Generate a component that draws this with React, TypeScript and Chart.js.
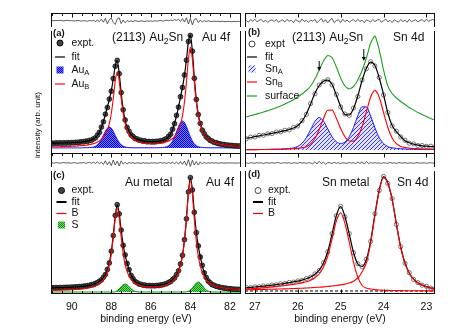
import React, { useEffect, useRef } from "react";
import { Chart, registerables } from "chart.js";

Chart.register(...registerables);

const FONT = '"Liberation Sans", Arial, Helvetica, sans-serif';
const PAD = 6;
const RED = "#ff0000";
const BLUE = "#1a1aff";
const GREEN = "#1f9f1f";

// ---------- axes ----------
const auRange = [81.44, 91.05];
const snRange = [22.8, 27.23];
const auMajorTicks = [90, 88, 86, 84, 82];
const snMajorTicks = [27, 26, 25, 24, 23];

// ---------- Au 4f energies (eV) ----------
const auEnergy = [
  91.0, 90.9, 90.8, 90.7, 90.6, 90.5, 90.4, 90.3, 90.2, 90.1,
  90.0, 89.9, 89.8, 89.7, 89.6, 89.5, 89.4, 89.3, 89.2, 89.1,
  89.0, 88.9, 88.8, 88.7, 88.6, 88.5, 88.4, 88.3, 88.2, 88.1,
  88.0, 87.9, 87.8, 87.7, 87.6, 87.5, 87.4, 87.3, 87.2, 87.1,
  87.0, 86.9, 86.8, 86.7, 86.6, 86.5, 86.4, 86.3, 86.2, 86.1,
  86.0, 85.9, 85.8, 85.7, 85.6, 85.5, 85.4, 85.3, 85.2, 85.1,
  85.0, 84.9, 84.8, 84.7, 84.6, 84.5, 84.4, 84.3, 84.2, 84.1,
  84.0, 83.9, 83.8, 83.7, 83.6, 83.5, 83.4, 83.3, 83.2, 83.1,
  83.0, 82.9, 82.8, 82.7, 82.6, 82.5, 82.4, 82.3, 82.2, 82.1,
  82.0, 81.9, 81.8, 81.7, 81.6, 81.5,
];

// panel (a) (2113) Au2Sn, Au 4f
const aExpt = [
  9.9, 9.6, 10.0, 9.8, 10.1, 9.8, 10.2, 9.9, 10.3, 10.0,
  10.4, 10.2, 10.7, 10.5, 10.9, 11.2, 11.2, 11.8, 11.7, 12.6,
  12.8, 14.1, 15.2, 17.9, 20.7, 25.9, 31.2, 38.8, 45.5, 53.9,
  61.8, 74.5, 86.8, 92.6, 79.3, 60.4, 43.2, 33.0, 25.5, 21.6,
  18.1, 16.5, 14.6, 14.0, 12.9, 12.7, 11.9, 12.0, 11.3, 11.6,
  11.2, 11.5, 11.2, 11.7, 11.6, 12.3, 12.4, 13.6, 14.3, 16.6,
  18.8, 23.8, 29.3, 37.6, 45.9, 56.3, 65.5, 78.0, 92.8, 111.5,
  117.5, 101.8, 74.7, 53.5, 38.4, 29.6, 22.8, 19.3, 16.1, 14.5,
  12.6, 11.9, 10.6, 10.3, 9.4, 9.2, 8.5, 8.5, 7.8, 7.9,
  7.5, 7.6, 7.1, 7.2, 6.9, 7.0,
];
const aFit = [
  9.8, 9.8, 9.8, 9.9, 9.9, 10.0, 10.0, 10.1, 10.1, 10.2,
  10.3, 10.4, 10.5, 10.7, 10.8, 11.0, 11.4, 11.6, 11.9, 12.4,
  13.0, 13.9, 15.4, 17.6, 21.0, 25.6, 31.5, 38.4, 45.9, 53.5,
  62.3, 74.0, 87.2, 92.2, 79.8, 60.0, 43.6, 32.7, 25.8, 21.3,
  18.3, 16.3, 14.8, 13.8, 13.1, 12.5, 12.1, 11.8, 11.5, 11.4,
  11.4, 11.3, 11.4, 11.5, 11.8, 12.1, 12.6, 13.4, 14.5, 16.3,
  19.1, 23.5, 29.6, 37.3, 46.2, 55.9, 65.9, 77.6, 93.2, 111.1,
  117.9, 101.4, 75.1, 53.2, 38.7, 29.3, 23.1, 19.1, 16.3, 14.3,
  12.8, 11.7, 10.8, 10.1, 9.6, 9.0, 8.7, 8.3, 8.0, 7.8,
  7.6, 7.4, 7.3, 7.1, 7.0, 6.9,
];
const aAuA = [
  5.1, 5.1, 5.1, 5.1, 5.1, 5.1, 5.1, 5.1, 5.1, 5.1,
  5.1, 5.1, 5.1, 5.1, 5.1, 5.1, 5.3, 5.3, 5.3, 5.4,
  5.6, 6.0, 6.8, 8.2, 10.5, 13.7, 17.6, 21.7, 24.8, 26.0,
  24.8, 21.7, 17.6, 13.7, 10.5, 8.2, 6.8, 6.0, 5.6, 5.4,
  5.3, 5.2, 5.2, 5.2, 5.2, 5.2, 5.2, 5.2, 5.2, 5.2,
  5.2, 5.2, 5.2, 5.2, 5.3, 5.4, 5.5, 5.8, 6.3, 7.3,
  9.1, 12.0, 16.2, 21.3, 26.4, 30.5, 32.0, 30.5, 26.4, 21.3,
  16.2, 12.0, 9.1, 7.3, 6.3, 5.8, 5.5, 5.4, 5.3, 5.2,
  5.2, 5.2, 5.2, 5.2, 5.2, 5.2, 5.1, 5.1, 5.1, 5.1,
  5.1, 5.1, 5.1, 5.1, 5.1, 5.1,
];
const aAuB = [
  6.2, 6.2, 6.2, 6.3, 6.3, 6.4, 6.4, 6.5, 6.5, 6.6,
  6.7, 6.8, 6.9, 7.1, 7.2, 7.4, 7.6, 7.8, 8.1, 8.5,
  8.9, 9.4, 10.1, 10.9, 12.0, 13.5, 15.5, 18.4, 22.9, 29.4,
  39.5, 54.5, 71.9, 81.0, 71.9, 54.5, 39.6, 29.6, 23.2, 18.9,
  16.0, 14.1, 12.6, 11.6, 10.9, 10.3, 9.9, 9.6, 9.3, 9.2,
  9.2, 9.1, 9.2, 9.3, 9.5, 9.7, 10.1, 10.6, 11.2, 12.0,
  13.0, 14.5, 16.4, 19.0, 22.9, 28.6, 37.3, 50.7, 70.6, 93.8,
  105.9, 93.8, 70.5, 50.6, 37.2, 28.4, 22.6, 18.7, 16.0, 14.1,
  12.6, 11.5, 10.6, 9.9, 9.4, 8.9, 8.6, 8.2, 7.9, 7.7,
  7.5, 7.3, 7.2, 7.0, 6.9, 6.8,
];
const aRes = [
  0.5, 0.2, 0.6, 0.3, 0.8, 0.4, 0.1, 0.5, 0.7, 0.2,
  0.4, 0.0, 0.3, 0.6, 0.2, -0.2, 0.4, 0.1, -0.3, 0.5,
  0.0, 0.7, -0.4, 0.9, -0.6, 1.8, -1.2, 2.5, -2.8, 1.5,
  3.0, -1.5, -3.5, 2.0, 3.2, -2.6, 1.0, -1.8, 0.5, -0.5,
  0.3, -0.7, 0.4, 0.0, -0.6, 0.3, -0.2, -0.5, 0.2, -0.3,
  0.1, -0.4, 0.3, -0.2, 0.2, 0.5, -0.1, 0.4, 0.8, 0.2,
  1.0, 0.4, 1.3, 0.6, 1.8, -0.5, 2.4, -1.0, 3.2, -3.0,
  2.5, -3.8, 1.6, 2.4, -1.5, 0.8, -0.9, 0.4, -0.6, 0.2,
  -0.3, -0.6, -0.1, -0.5, -0.2, -0.7, -0.3, -0.4, -0.8, -0.3,
  -0.5, -0.7, -0.4, -0.6, -0.3, -0.5,
];

// panel (c) Au metal, Au 4f
const cExpt = [
  6.3, 6.0, 6.4, 6.2, 6.5, 6.3, 6.6, 6.5, 6.7, 6.6,
  6.9, 6.8, 7.2, 7.1, 7.4, 7.4, 7.8, 7.9, 8.4, 8.6,
  9.3, 9.6, 10.6, 11.3, 12.8, 14.1, 16.7, 19.4, 24.5, 31.1,
  42.8, 58.4, 78.6, 89.3, 80.1, 63.9, 48.7, 39.1, 30.5, 24.4,
  18.7, 15.4, 12.5, 11.4, 10.0, 9.7, 8.9, 8.9, 8.3, 8.5,
  8.2, 8.4, 8.2, 8.6, 8.5, 9.0, 9.2, 9.9, 10.4, 11.6,
  12.4, 14.4, 16.0, 19.4, 23.2, 30.0, 38.7, 54.3, 75.2, 102.1,
  116.4, 104.0, 81.7, 61.3, 48.1, 37.0, 28.7, 21.2, 16.6, 13.0,
  11.2, 9.3, 8.7, 7.7, 7.3, 6.6, 6.4, 5.9, 5.8, 5.3,
  5.3, 4.9, 4.9, 4.6, 4.7, 4.5,
];
const cFit = [
  6.2, 6.2, 6.3, 6.3, 6.4, 6.4, 6.5, 6.6, 6.6, 6.7,
  6.8, 6.9, 7.1, 7.2, 7.3, 7.5, 7.7, 8.0, 8.3, 8.7,
  9.2, 9.7, 10.5, 11.4, 12.7, 14.3, 16.5, 19.6, 24.2, 31.4,
  42.4, 58.8, 78.2, 88.8, 80.5, 63.6, 49.1, 38.8, 30.8, 24.2,
  18.9, 15.2, 12.7, 11.2, 10.2, 9.5, 9.1, 8.7, 8.4, 8.4,
  8.3, 8.3, 8.3, 8.5, 8.6, 8.9, 9.3, 9.8, 10.5, 11.4,
  12.6, 14.2, 16.2, 19.2, 23.4, 29.7, 39.0, 53.9, 75.6, 101.7,
  115.8, 104.4, 81.3, 61.7, 47.8, 37.3, 28.4, 21.4, 16.4, 13.2,
  11.0, 9.5, 8.6, 7.8, 7.2, 6.7, 6.3, 6.0, 5.7, 5.4,
  5.2, 5.0, 4.8, 4.7, 4.6, 4.5,
];
const cB = [
  3.7, 3.7, 3.8, 3.8, 3.9, 3.9, 4.0, 4.1, 4.1, 4.2,
  4.3, 4.4, 4.6, 4.7, 4.8, 5.0, 5.2, 5.5, 5.8, 6.2,
  6.7, 7.2, 8.0, 8.9, 10.2, 11.8, 14.0, 17.2, 21.9, 29.1,
  40.2, 56.5, 75.6, 85.5, 75.7, 56.7, 40.4, 29.4, 22.3, 17.6,
  14.5, 12.35, 10.8, 9.7, 8.9, 8.2, 7.8, 7.4, 7.1, 7.1,
  7.0, 7.0, 7.0, 7.2, 7.3, 7.6, 8.0, 8.5, 9.2, 10.1,
  11.3, 12.9, 14.9, 17.9, 22.1, 28.5, 37.9, 52.7, 74.6, 100.2,
  113.4, 100.1, 74.5, 52.6, 37.8, 28.3, 21.8, 17.5, 14.5, 12.4,
  10.8, 9.5, 8.6, 7.8, 7.2, 6.7, 6.3, 6.0, 5.7, 5.4,
  5.2, 5.0, 4.8, 4.7, 4.6, 4.5,
];
const cS = [
  2.0, 2.0, 2.0, 2.0, 2.0, 2.0, 2.0, 2.0, 2.0, 2.0,
  2.0, 2.0, 2.0, 2.0, 2.0, 2.0, 2.0, 2.0, 2.0, 2.0,
  2.0, 2.0, 2.0, 2.0, 2.0, 2.0, 2.0, 2.0, 2.0, 2.0,
  2.0, 2.0, 2.2, 3.5, 5.1, 7.3, 9.2, 10.0, 9.2, 7.3,
  5.1, 3.5, 2.6, 2.2, 2.0, 2.0, 2.0, 2.0, 2.0, 2.0,
  2.0, 2.0, 2.0, 2.0, 2.0, 2.0, 2.0, 2.0, 2.0, 2.0,
  2.0, 2.0, 2.0, 2.0, 2.0, 2.0, 2.0, 2.0, 2.2, 2.8,
  3.9, 5.9, 8.6, 11.0, 12.0, 11.0, 8.6, 5.9, 3.9, 2.8,
  2.2, 2.0, 2.0, 2.0, 2.0, 2.0, 2.0, 2.0, 2.0, 2.0,
  2.0, 2.0, 2.0, 2.0, 2.0, 2.0,
];
const cRes = [
  0.3, -0.2, 0.4, 0.1, -0.3, 0.2, 0.5, -0.1, 0.3, 0.0,
  -0.2, 0.4, 0.1, -0.4, 0.3, 0.0, 0.5, -0.3, 0.2, 0.6,
  -0.2, 0.8, -0.5, 1.2, -0.8, 0.9, -1.5, 2.2, -1.8, 1.4,
  -2.6, 3.0, -2.0, 1.8, -3.0, 2.2, -1.2, 0.8, -0.9, 0.5,
  -0.3, 0.4, -0.5, 0.2, 0.0, -0.4, 0.3, -0.2, 0.1, -0.3,
  0.2, -0.1, 0.3, -0.3, 0.1, 0.4, -0.2, 0.3, -0.4, 0.5,
  -0.3, 0.7, -0.6, 1.0, -1.2, 1.6, -1.4, 2.0, -2.4, 3.2,
  -3.5, 2.8, -2.0, 1.5, -2.2, 1.2, -0.8, 0.6, -0.4, 0.3,
  -0.2, 0.3, -0.1, 0.2, -0.3, 0.1, 0.2, -0.2, 0.1, 0.0,
  0.2, -0.1, 0.1, -0.2, 0.1, 0.0,
];

// ---------- Sn 4d energies (eV) ----------
const snEnergy = [
  27.2, 27.1, 27.0, 26.9, 26.8, 26.7, 26.6, 26.5, 26.4, 26.3,
  26.2, 26.1, 26.0, 25.9, 25.8, 25.7, 25.6, 25.5, 25.4, 25.3,
  25.2, 25.1, 25.0, 24.9, 24.8, 24.7, 24.6, 24.5, 24.4, 24.3,
  24.2, 24.1, 24.0, 23.9, 23.8, 23.7, 23.6, 23.5, 23.4, 23.3,
  23.2, 23.1, 23.0, 22.9, 22.8,
];
const snResEnergy = [
  27.2, 27.15, 27.1, 27.05, 27.0, 26.95, 26.9, 26.85, 26.8, 26.75,
  26.7, 26.65, 26.6, 26.55, 26.5, 26.45, 26.4, 26.35, 26.3, 26.25,
  26.2, 26.15, 26.1, 26.05, 26.0, 25.95, 25.9, 25.85, 25.8, 25.75,
  25.7, 25.65, 25.6, 25.55, 25.5, 25.45, 25.4, 25.35, 25.3, 25.25,
  25.2, 25.15, 25.1, 25.05, 25.0, 24.95, 24.9, 24.85, 24.8, 24.75,
  24.7, 24.65, 24.6, 24.55, 24.5, 24.45, 24.4, 24.35, 24.3, 24.25,
  24.2, 24.15, 24.1, 24.05, 24.0, 23.95, 23.9, 23.85, 23.8, 23.75,
  23.7, 23.65, 23.6, 23.55, 23.5, 23.45, 23.4, 23.35, 23.3, 23.25,
  23.2, 23.15, 23.1, 23.05, 23.0, 22.95, 22.9, 22.85, 22.8,
];

// panel (b) (2113) Au2Sn, Sn 4d
const bExpt = [
  14.2, 15.9, 16.0, 17.6, 17.7, 19.2, 19.4, 21.0, 21.1, 22.7,
  23.1, 25.5, 27.0, 32.3, 38.6, 49.5, 59.2, 68.0, 71.3, 73.3,
  68.0, 58.6, 46.0, 39.0, 37.6, 45.0, 56.5, 73.0, 84.2, 91.3,
  87.0, 75.5, 58.0, 40.5, 27.0, 21.8, 16.1, 12.7, 9.8, 9.1,
  7.5, 7.5, 6.6, 6.8, 6.1,
];
const bFit = [
  14.7, 15.5, 16.3, 17.2, 18.0, 18.8, 19.7, 20.6, 21.4, 22.3,
  23.5, 25.0, 27.3, 31.8, 39.0, 49.0, 59.7, 67.5, 71.8, 72.8,
  68.5, 58.0, 46.5, 38.5, 38.0, 44.5, 57.0, 72.5, 84.7, 90.8,
  87.5, 75.0, 58.5, 40.0, 27.5, 21.3, 16.5, 12.3, 10.2, 8.8,
  7.8, 7.2, 6.8, 6.5, 6.3,
];
const bSnA = [
  3.3, 3.3, 3.4, 3.4, 3.5, 3.6, 3.7, 3.8, 3.9, 4.1,
  4.5, 5.1, 6.6, 9.7, 15.3, 23.4, 31.6, 35.4, 31.9, 24.0,
  16.3, 11.3, 9.4, 11.0, 16.3, 25.6, 37.3, 46.2, 46.1, 37.0,
  25.1, 15.4, 9.5, 6.4, 5.2, 4.6, 4.2, 4.0, 3.8, 3.7,
  3.6, 3.55, 3.5, 3.45, 3.4,
];
const bSnB = [
  3.3, 3.35, 3.4, 3.45, 3.5, 3.5, 3.6, 3.7, 3.8, 3.9,
  4.1, 4.3, 4.6, 5.2, 6.3, 9.2, 14.5, 23.5, 34.3, 42.7,
  42.9, 34.8, 24.4, 16.2, 12.0, 11.9, 16.5, 26.3, 41.1, 56.0,
  62.6, 55.7, 40.5, 25.5, 15.1, 9.3, 6.6, 5.5, 4.9, 4.5,
  4.3, 4.1, 3.9, 3.8, 3.7,
];
const bSurface = [
  36.0, 37.3, 38.5, 39.7, 41.0, 42.3, 43.7, 45.2, 47.0, 49.0,
  51.0, 53.3, 56.0, 59.0, 62.5, 67.0, 74.0, 83.0, 92.0, 97.5,
  95.5, 86.0, 75.0, 67.0, 64.0, 66.5, 73.0, 82.5, 95.0, 110.0,
  117.0, 103.0, 83.0, 67.0, 59.5, 55.0, 51.5, 48.5, 45.5, 43.0,
  40.5, 38.5, 36.5, 34.5, 32.8,
];
const bRes = [
  0.5, -1.2, 1.4, -0.3, 1.8, -0.8, 0.6, 1.5, -1.0, 0.9,
  -1.5, 0.4, 1.2, -0.6, 1.7, -1.3, 0.2, 1.1, -0.9, 1.6,
  -0.4, 0.8, -1.6, 1.3, 0.1, -1.1, 1.9, -0.5, 0.7, -1.4,
  1.0, -0.2, 1.5, -1.8, 0.6, 2.4, -1.2, 1.3, -2.0, 0.9,
  2.6, -1.7, 0.4, 1.2, -1.5, 1.8, -0.7, 1.0, -1.3, 0.5,
  1.4, -0.9, 1.7, -0.4, 0.8, -1.6, 1.1, 0.2, -1.0, 1.5,
  -0.6, 0.9, 1.6, -1.2, 0.3, 1.9, -0.8, 0.7, -1.5, 1.2,
  0.0, -1.1, 1.4, -0.5, 0.9, -1.3, 1.7, -0.7, 0.4, 1.3,
  -1.0, 0.6, 1.5, -0.8, 1.9, -0.4, 0.8, 1.6, -0.3,
];
const arrowEnergy = [25.5, 24.46];
const arrowTop = [92, 104];
const arrowTip = [82, 92];

// panel (d) Sn metal, Sn 4d
const dExpt = [
  6.5, 6.4, 7.2, 7.3, 8.0, 8.1, 9.0, 9.3, 10.2, 10.5,
  11.6, 11.9, 13.1, 13.7, 15.4, 16.8, 20.1, 23.5, 31.3, 42.2,
  60.4, 78.1, 87.7, 77.1, 60.4, 41.2, 30.3, 27.2, 34.8, 52.6,
  80.4, 103.6, 117.6, 110.6, 95.4, 69.6, 47.3, 30.7, 21.3, 14.6,
  11.4, 8.8, 7.6, 5.8, 5.4,
];
const dFit = [
  6.3, 6.6, 7.0, 7.4, 7.8, 8.3, 8.8, 9.4, 10.0, 10.7,
  11.4, 12.1, 12.9, 13.9, 15.2, 17.0, 19.8, 23.8, 31.0, 42.5,
  60.0, 78.5, 87.3, 77.5, 60.0, 41.5, 30.0, 27.5, 34.5, 53.0,
  80.0, 104.0, 117.3, 111.0, 95.0, 70.0, 47.0, 31.0, 21.0, 14.8,
  11.2, 9.0, 7.4, 6.0, 5.2,
];
const dB52 = [
  4.2, 4.3, 4.4, 4.5, 4.6, 4.7, 4.8, 4.9, 5.0, 5.15,
  5.3, 5.45, 5.6, 5.8, 6.0, 6.25, 6.5, 6.8, 7.1, 7.5,
  8.0, 8.5, 9.1, 9.9, 11.0, 12.8, 16.0, 22.0, 31.5, 51.0,
  78.6, 103.0, 116.5, 110.4, 94.5, 69.6, 46.65, 30.7, 20.75, 14.6,
  11.0, 8.85, 7.3, 5.9, 5.15,
];
const dB32 = [
  5.1, 5.3, 5.6, 5.9, 6.2, 6.6, 7.0, 7.5, 8.0, 8.55,
  9.1, 9.65, 10.3, 11.1, 12.2, 13.75, 16.3, 20.0, 26.9, 38.0,
  55.0, 73.0, 81.2, 70.6, 52.0, 31.7, 17.0, 8.5, 6.0, 5.0,
  4.4, 4.0, 3.8, 3.6, 3.5, 3.4, 3.35, 3.3, 3.25, 3.2,
  3.2, 3.15, 3.1, 3.1, 3.05,
];
const dBackgroundLevel = [3, 3];
const dBackgroundEnergy = [27.23, 22.8];
const dRes = [
  0.2, -0.4, 0.3, 0.0, -0.3, 0.4, -0.1, 0.2, -0.5, 0.3,
  0.1, -0.3, 0.4, -0.2, 0.2, 0.5, -0.4, 0.1, 0.3, -0.2,
  0.4, -0.5, 0.2, 0.0, -0.3, 0.6, -0.2, 0.3, -0.6, 0.4,
  0.1, -0.8, 1.2, -1.0, 1.8, -0.6, 0.9, -1.3, 0.5, 0.2,
  -0.5, 0.7, -0.3, 0.4, -0.7, 0.3, 0.0, -0.4, 0.6, -0.2,
  0.3, -0.5, 0.8, -0.4, 1.2, -1.1, 1.6, -0.7, 0.5, -0.3,
  0.4, -0.2, 0.1, -0.4, 0.3, 0.0, -0.3, 0.5, -0.2, 0.2,
  -0.4, 0.3, 0.1, -0.2, 0.4, -0.3, 0.0, 0.2, -0.3, 0.1,
  0.3, -0.2, 0.0, 0.2, -0.3, 0.1, 0.2, -0.1, 0.0,
];

// ---------- helpers ----------
const pts = (xs: number[], ys: number[]) => xs.map((x, i) => ({ x, y: ys[i] }));

function makePatterns(ctx: CanvasRenderingContext2D) {
  const tile = (w: number, h: number, draw: (c: CanvasRenderingContext2D) => void) => {
    const cv = document.createElement("canvas");
    cv.width = w;
    cv.height = h;
    const c = cv.getContext("2d")!;
    draw(c);
    return ctx.createPattern(cv, "repeat")!;
  };
  const blueCheck = tile(2, 2, (c) => {
    c.fillStyle = "#7a7aff";
    c.fillRect(0, 0, 2, 2);
    c.fillStyle = "#0000e8";
    c.fillRect(0, 0, 1, 1);
    c.fillRect(1, 1, 1, 1);
  });
  const greenCheck = tile(2, 2, (c) => {
    c.fillStyle = "#7fd07f";
    c.fillRect(0, 0, 2, 2);
    c.fillStyle = "#009a00";
    c.fillRect(0, 0, 1, 1);
    c.fillRect(1, 1, 1, 1);
  });
  const blueHatch = tile(4, 4, (c) => {
    c.fillStyle = "rgba(205,205,255,0.6)";
    c.fillRect(0, 0, 4, 4);
    c.fillStyle = "#3a3aff";
    c.fillRect(3, 0, 1, 1);
    c.fillRect(2, 1, 1, 1);
    c.fillRect(1, 2, 1, 1);
    c.fillRect(0, 3, 1, 1);
  });
  return { blueCheck, greenCheck, blueHatch } as Record<string, CanvasPattern>;
}

type TextItem = { t: string; x: number; y: number; size: number; bold?: boolean };
type LegendItem = { kind: "dotFilled" | "dotOpen" | "line" | "patch"; label: string; color?: string; pattern?: string; lw?: number };
type Deco = {
  frame: { top?: boolean; bottom?: boolean; left?: boolean; right?: boolean };
  ticks?: { side: "top" | "bottom"; major: number[]; minorStep?: number };
  tickLabels?: boolean;
  xTitle?: string;
  texts?: TextItem[];
  legend?: { markerX: number; labelX: number; rows: number[]; items: LegendItem[]; size: number };
  arrows?: boolean;
};

function drawRich(ctx: CanvasRenderingContext2D, s: string, x: number, y: number, size: number, bold?: boolean) {
  const w = bold ? "bold " : "";
  let cx = x;
  let i = 0;
  while (i < s.length) {
    if (s[i] === "_" && i + 1 < s.length) {
      ctx.font = `${w}${size * 0.72}px ${FONT}`;
      ctx.fillText(s[i + 1], cx, y + size * 0.3);
      cx += ctx.measureText(s[i + 1]).width;
      i += 2;
    } else {
      let j = i;
      while (j < s.length && s[j] !== "_") j++;
      const run = s.slice(i, j);
      ctx.font = `${w}${size}px ${FONT}`;
      ctx.fillText(run, cx, y);
      cx += ctx.measureText(run).width;
      i = j;
    }
  }
}

function drawDeco(chart: any, d: Deco, ox: number, oy: number, pats: Record<string, CanvasPattern>) {
  const ctx: CanvasRenderingContext2D = chart.ctx;
  const a = chart.chartArea;
  const xs = chart.scales.x;
  const ys = chart.scales.y;
  const L = Math.round(a.left) + 0.5;
  const R = Math.round(a.right) - 0.5;
  const T = Math.round(a.top) + 0.5;
  const B = Math.round(a.bottom) - 0.5;
  ctx.save();
  ctx.strokeStyle = "#111";
  ctx.lineWidth = 1;
  ctx.beginPath();
  if (d.frame.left) { ctx.moveTo(L, T - 0.5); ctx.lineTo(L, B + 0.5); }
  if (d.frame.right) { ctx.moveTo(R, T - 0.5); ctx.lineTo(R, B + 0.5); }
  if (d.frame.top) { ctx.moveTo(L - 0.5, T); ctx.lineTo(R + 0.5, T); }
  if (d.frame.bottom) { ctx.moveTo(L - 0.5, B); ctx.lineTo(R + 0.5, B); }
  ctx.stroke();

  if (d.ticks) {
    const yb = d.ticks.side === "top" ? T : B;
    const dir = d.ticks.side === "top" ? 1 : -1;
    const lo = Math.min(xs.min, xs.max);
    const hi = Math.max(xs.min, xs.max);
    ctx.beginPath();
    d.ticks.major.forEach((v) => {
      const px = Math.round(xs.getPixelForValue(v)) + 0.5;
      ctx.moveTo(px, yb);
      ctx.lineTo(px, yb + dir * 4);
    });
    if (d.ticks.minorStep) {
      const st = d.ticks.minorStep;
      for (let n = Math.ceil(lo / st); n * st <= hi; n++) {
        const v = n * st;
        if (d.ticks.major.some((m) => Math.abs(m - v) < 1e-6)) continue;
        const px = Math.round(xs.getPixelForValue(v)) + 0.5;
        ctx.moveTo(px, yb);
        ctx.lineTo(px, yb + dir * 2.5);
      }
    }
    ctx.stroke();
    if (d.tickLabels) {
      ctx.fillStyle = "#111";
      ctx.font = `10.5px ${FONT}`;
      ctx.textAlign = "center";
      ctx.textBaseline = "middle";
      d.ticks.major.forEach((v) => ctx.fillText(String(v), xs.getPixelForValue(v), a.bottom + 13));
    }
  }
  if (d.xTitle) {
    ctx.fillStyle = "#111";
    ctx.font = `10.5px ${FONT}`;
    ctx.textAlign = "center";
    ctx.textBaseline = "middle";
    ctx.fillText(d.xTitle, (a.left + a.right) / 2, a.bottom + 25);
  }
  ctx.textAlign = "left";
  ctx.textBaseline = "middle";
  ctx.fillStyle = "#111";
  (d.texts || []).forEach((t) => drawRich(ctx, t.t, t.x - ox, t.y - oy, t.size, t.bold));

  if (d.legend) {
    const lg = d.legend;
    lg.items.forEach((it, i) => {
      const mx = lg.markerX - ox;
      const my = lg.rows[i] - oy;
      if (it.kind === "dotFilled") {
        ctx.beginPath();
        ctx.arc(mx, my, 3, 0, Math.PI * 2);
        ctx.fillStyle = "#444";
        ctx.fill();
        ctx.strokeStyle = "#000";
        ctx.lineWidth = 1;
        ctx.stroke();
      } else if (it.kind === "dotOpen") {
        ctx.beginPath();
        ctx.arc(mx, my, 3, 0, Math.PI * 2);
        ctx.strokeStyle = "#444";
        ctx.lineWidth = 1;
        ctx.stroke();
      } else if (it.kind === "line") {
        ctx.beginPath();
        ctx.moveTo(mx - 5, my);
        ctx.lineTo(mx + 5, my);
        ctx.strokeStyle = it.color || "#000";
        ctx.lineWidth = it.lw || 1.2;
        ctx.stroke();
      } else if (it.kind === "patch") {
        ctx.fillStyle = pats[it.pattern!];
        ctx.fillRect(mx - 3.5, my - 3.5, 7, 7);
      }
      ctx.fillStyle = "#111";
      drawRich(ctx, it.label, lg.labelX - ox, my, lg.size);
    });
  }

  if (d.arrows) {
    ctx.strokeStyle = "#000";
    ctx.fillStyle = "#000";
    ctx.lineWidth = 1;
    arrowEnergy.forEach((e, i) => {
      const px = xs.getPixelForValue(e);
      const y1 = ys.getPixelForValue(arrowTop[i]);
      const y2 = ys.getPixelForValue(arrowTip[i]);
      ctx.beginPath();
      ctx.moveTo(px, y1);
      ctx.lineTo(px, y2 - 3);
      ctx.stroke();
      ctx.beginPath();
      ctx.moveTo(px - 2, y2 - 4);
      ctx.lineTo(px + 2, y2 - 4);
      ctx.lineTo(px, y2);
      ctx.closePath();
      ctx.fill();
    });
  }
  ctx.restore();
}

type Spec = {
  x: number;
  y: number;
  w: number;
  h: number;
  extraBottom?: number;
  xRange: number[];
  yRange: number[];
  datasets: (p: Record<string, CanvasPattern>) => any[];
  deco: Deco;
};

function ChartBox({ spec }: { spec: Spec }) {
  const ref = useRef<HTMLCanvasElement>(null);
  const eb = spec.extraBottom || 0;
  const W = spec.w + 2 * PAD;
  const H = spec.h + 2 * PAD + eb;
  useEffect(() => {
    const canvas = ref.current!;
    const ctx = canvas.getContext("2d")!;
    const pats = makePatterns(ctx);
    const ox = spec.x - PAD;
    const oy = spec.y - PAD;
    const chart = new Chart(canvas, {
      type: "line",
      data: { datasets: spec.datasets(pats) },
      options: {
        responsive: false,
        animation: false,
        devicePixelRatio: 1,
        events: [],
        layout: { padding: { left: PAD, right: PAD, top: PAD, bottom: PAD + eb } },
        scales: {
          x: { type: "linear", min: spec.xRange[0], max: spec.xRange[1], reverse: true, display: false },
          y: { type: "linear", min: spec.yRange[0], max: spec.yRange[1], display: false },
        },
        plugins: { legend: { display: false }, tooltip: { enabled: false } },
      } as any,
      plugins: [{ id: "deco", afterDraw: (c: any) => drawDeco(c, spec.deco, ox, oy, pats) }],
    });
    return () => chart.destroy();
  }, []);
  return (
    <canvas
      ref={ref}
      width={W}
      height={H}
      style={{ position: "absolute", left: spec.x - PAD, top: spec.y - PAD, width: W, height: H }}
    />
  );
}

const lineDs = (xs: number[], ys: number[], color: string, width: number, order: number, extra: any = {}) => ({
  data: pts(xs, ys),
  borderColor: color,
  borderWidth: width,
  pointRadius: 0,
  cubicInterpolationMode: "monotone",
  fill: false,
  order,
  ...extra,
});
const filledDots = (xs: number[], ys: number[], order: number) => ({
  data: pts(xs, ys),
  showLine: false,
  pointRadius: 2.4,
  pointBackgroundColor: "#505050",
  pointBorderColor: "#111",
  pointBorderWidth: 0.8,
  order,
});
const openDots = (xs: number[], ys: number[], order: number) => ({
  data: pts(xs, ys),
  showLine: false,
  pointRadius: 2.1,
  pointBackgroundColor: "rgba(255,255,255,0)",
  pointBorderColor: "#555",
  pointBorderWidth: 0.8,
  order,
});
const resDs = (xs: number[], ys: number[]) => ({
  data: pts(xs, ys),
  borderColor: "#333",
  borderWidth: 0.8,
  pointRadius: 0,
  tension: 0,
  fill: false,
});

const LX = 51;
const RX = 245;
const CW = 190;

const specs: Spec[] = [
  // top residual strips
  {
    x: LX, y: 13, w: CW, h: 14, xRange: auRange, yRange: [-6, 8],
    datasets: () => [resDs(auEnergy, aRes)],
    deco: { frame: { top: true, left: true, right: true }, ticks: { side: "top", major: auMajorTicks, minorStep: 0.5 } },
  },
  {
    x: RX, y: 13, w: CW, h: 14, xRange: snRange, yRange: [-6, 8],
    datasets: () => [resDs(snResEnergy, bRes)],
    deco: { frame: { top: true, left: true, right: true }, ticks: { side: "top", major: snMajorTicks } },
  },
  // panel (a)
  {
    x: LX, y: 31, w: CW, h: 122, xRange: auRange, yRange: [0, 122],
    datasets: (p) => [
      lineDs(auEnergy, aAuB, RED, 1.1, 0),
      lineDs(auEnergy, aFit, "#000", 1.2, 1),
      filledDots(auEnergy, aExpt, 2),
      lineDs(auEnergy, aAuA, BLUE, 1, 3, { fill: { value: 5 }, backgroundColor: p.blueCheck }),
    ],
    deco: {
      frame: { left: true, right: true },
      texts: [
        { t: "(a)", x: 53, y: 33, size: 9.5, bold: true },
        { t: "(2113) Au_2Sn", x: 112, y: 38, size: 12 },
        { t: "Au 4f", x: 202, y: 38, size: 12 },
      ],
      legend: {
        markerX: 60, labelX: 71.5, rows: [43, 57, 70, 84], size: 10.5,
        items: [
          { kind: "dotFilled", label: "expt." },
          { kind: "line", label: "fit", color: "#000" },
          { kind: "patch", label: "Au_A", pattern: "blueCheck" },
          { kind: "line", label: "Au_B", color: RED },
        ],
      },
    },
  },
  // panel (b)
  {
    x: RX, y: 31, w: CW, h: 122, xRange: snRange, yRange: [0, 122],
    datasets: (p) => [
      lineDs(snEnergy, bFit, "#000", 1.2, 0),
      openDots(snEnergy, bExpt, 1),
      lineDs(snEnergy, bSnB, RED, 1.1, 2),
      lineDs(snEnergy, bSurface, GREEN, 1.1, 3, { cubicInterpolationMode: "default", tension: 0.2 }),
      lineDs(snEnergy, bSnA, BLUE, 1, 4, { fill: { value: 3 }, backgroundColor: p.blueHatch }),
    ],
    deco: {
      frame: { left: true, right: true },
      arrows: true,
      texts: [
        { t: "(b)", x: 248, y: 32, size: 9.5, bold: true },
        { t: "(2113) Au_2Sn", x: 292, y: 38, size: 12 },
        { t: "Sn 4d", x: 393, y: 38, size: 12 },
      ],
      legend: {
        markerX: 252, labelX: 265, rows: [44, 57, 69, 82, 96], size: 10.5,
        items: [
          { kind: "dotOpen", label: "expt" },
          { kind: "line", label: "fit", color: "#000" },
          { kind: "patch", label: "Sn_A", pattern: "blueHatch" },
          { kind: "line", label: "Sn_B", color: RED },
          { kind: "line", label: "surface", color: GREEN },
        ],
      },
    },
  },
  // middle residual strips
  {
    x: LX, y: 153, w: CW, h: 14, xRange: auRange, yRange: [-4, 10],
    datasets: () => [resDs(auEnergy, cRes)],
    deco: { frame: { top: true, left: true, right: true }, ticks: { side: "top", major: auMajorTicks, minorStep: 0.5 } },
  },
  {
    x: RX, y: 153, w: CW, h: 14, xRange: snRange, yRange: [-4, 10],
    datasets: () => [resDs(snResEnergy, dRes)],
    deco: { frame: { top: true, left: true, right: true }, ticks: { side: "top", major: snMajorTicks } },
  },
  // panel (c)
  {
    x: LX, y: 171, w: CW, h: 123, extraBottom: 34, xRange: auRange, yRange: [0, 123],
    datasets: (p) => [
      lineDs(auEnergy, cB, RED, 1.1, 0),
      lineDs(auEnergy, cFit, "#000", 1.2, 1),
      filledDots(auEnergy, cExpt, 2),
      lineDs(auEnergy, cS, "#009a00", 1, 3, { fill: { value: 2 }, backgroundColor: p.greenCheck }),
    ],
    deco: {
      frame: { left: true, right: true, bottom: true },
      ticks: { side: "bottom", major: auMajorTicks, minorStep: 0.5 },
      tickLabels: true,
      xTitle: "binding energy (eV)",
      texts: [
        { t: "(c)", x: 53, y: 175, size: 9.5, bold: true },
        { t: "Au metal", x: 125, y: 183, size: 12 },
        { t: "Au 4f", x: 206, y: 183, size: 12 },
      ],
      legend: {
        markerX: 61.5, labelX: 71.5, rows: [190.5, 202, 213.5, 225], size: 10.5,
        items: [
          { kind: "dotFilled", label: "expt." },
          { kind: "line", label: "fit", color: "#000", lw: 2 },
          { kind: "line", label: "B", color: RED },
          { kind: "patch", label: "S", pattern: "greenCheck" },
        ],
      },
    },
  },
  // panel (d)
  {
    x: RX, y: 171, w: CW, h: 123, extraBottom: 34, xRange: snRange, yRange: [0, 123],
    datasets: () => [
      lineDs(snEnergy, dB52, RED, 1.1, 0),
      lineDs(snEnergy, dB32, RED, 1.1, 0),
      lineDs(snEnergy, dFit, "#000", 1.2, 1),
      openDots(snEnergy, dExpt, 2),
      lineDs(dBackgroundEnergy, dBackgroundLevel, "#000", 1, 3, { borderDash: [3, 2], cubicInterpolationMode: "default" }),
    ],
    deco: {
      frame: { left: true, right: true, bottom: true },
      ticks: { side: "bottom", major: snMajorTicks },
      tickLabels: true,
      xTitle: "binding energy (eV)",
      texts: [
        { t: "(d)", x: 248, y: 174, size: 9.5, bold: true },
        { t: "Sn metal", x: 322, y: 183, size: 12 },
        { t: "Sn 4d", x: 397, y: 183, size: 12 },
      ],
      legend: {
        markerX: 258, labelX: 268, rows: [190.5, 202, 213.5], size: 10.5,
        items: [
          { kind: "dotOpen", label: "expt." },
          { kind: "line", label: "fit", color: "#000", lw: 2 },
          { kind: "line", label: "B", color: RED },
        ],
      },
    },
  },
];

export default function App() {
  return (
    <div style={{ position: "absolute", left: 0, top: 0, width: 463, height: 333, background: "#fff", overflow: "hidden" }}>
      {specs.map((s, i) => (
        <ChartBox key={i} spec={s} />
      ))}
      <div
        style={{
          position: "absolute",
          left: 38 - 60,
          top: 125 - 6,
          width: 120,
          height: 12,
          lineHeight: "12px",
          textAlign: "center",
          fontFamily: FONT,
          fontSize: 8,
          color: "#111",
          transform: "rotate(-90deg)",
          whiteSpace: "nowrap",
        }}
      >
        intensity (arb. unit)
      </div>
    </div>
  );
}
